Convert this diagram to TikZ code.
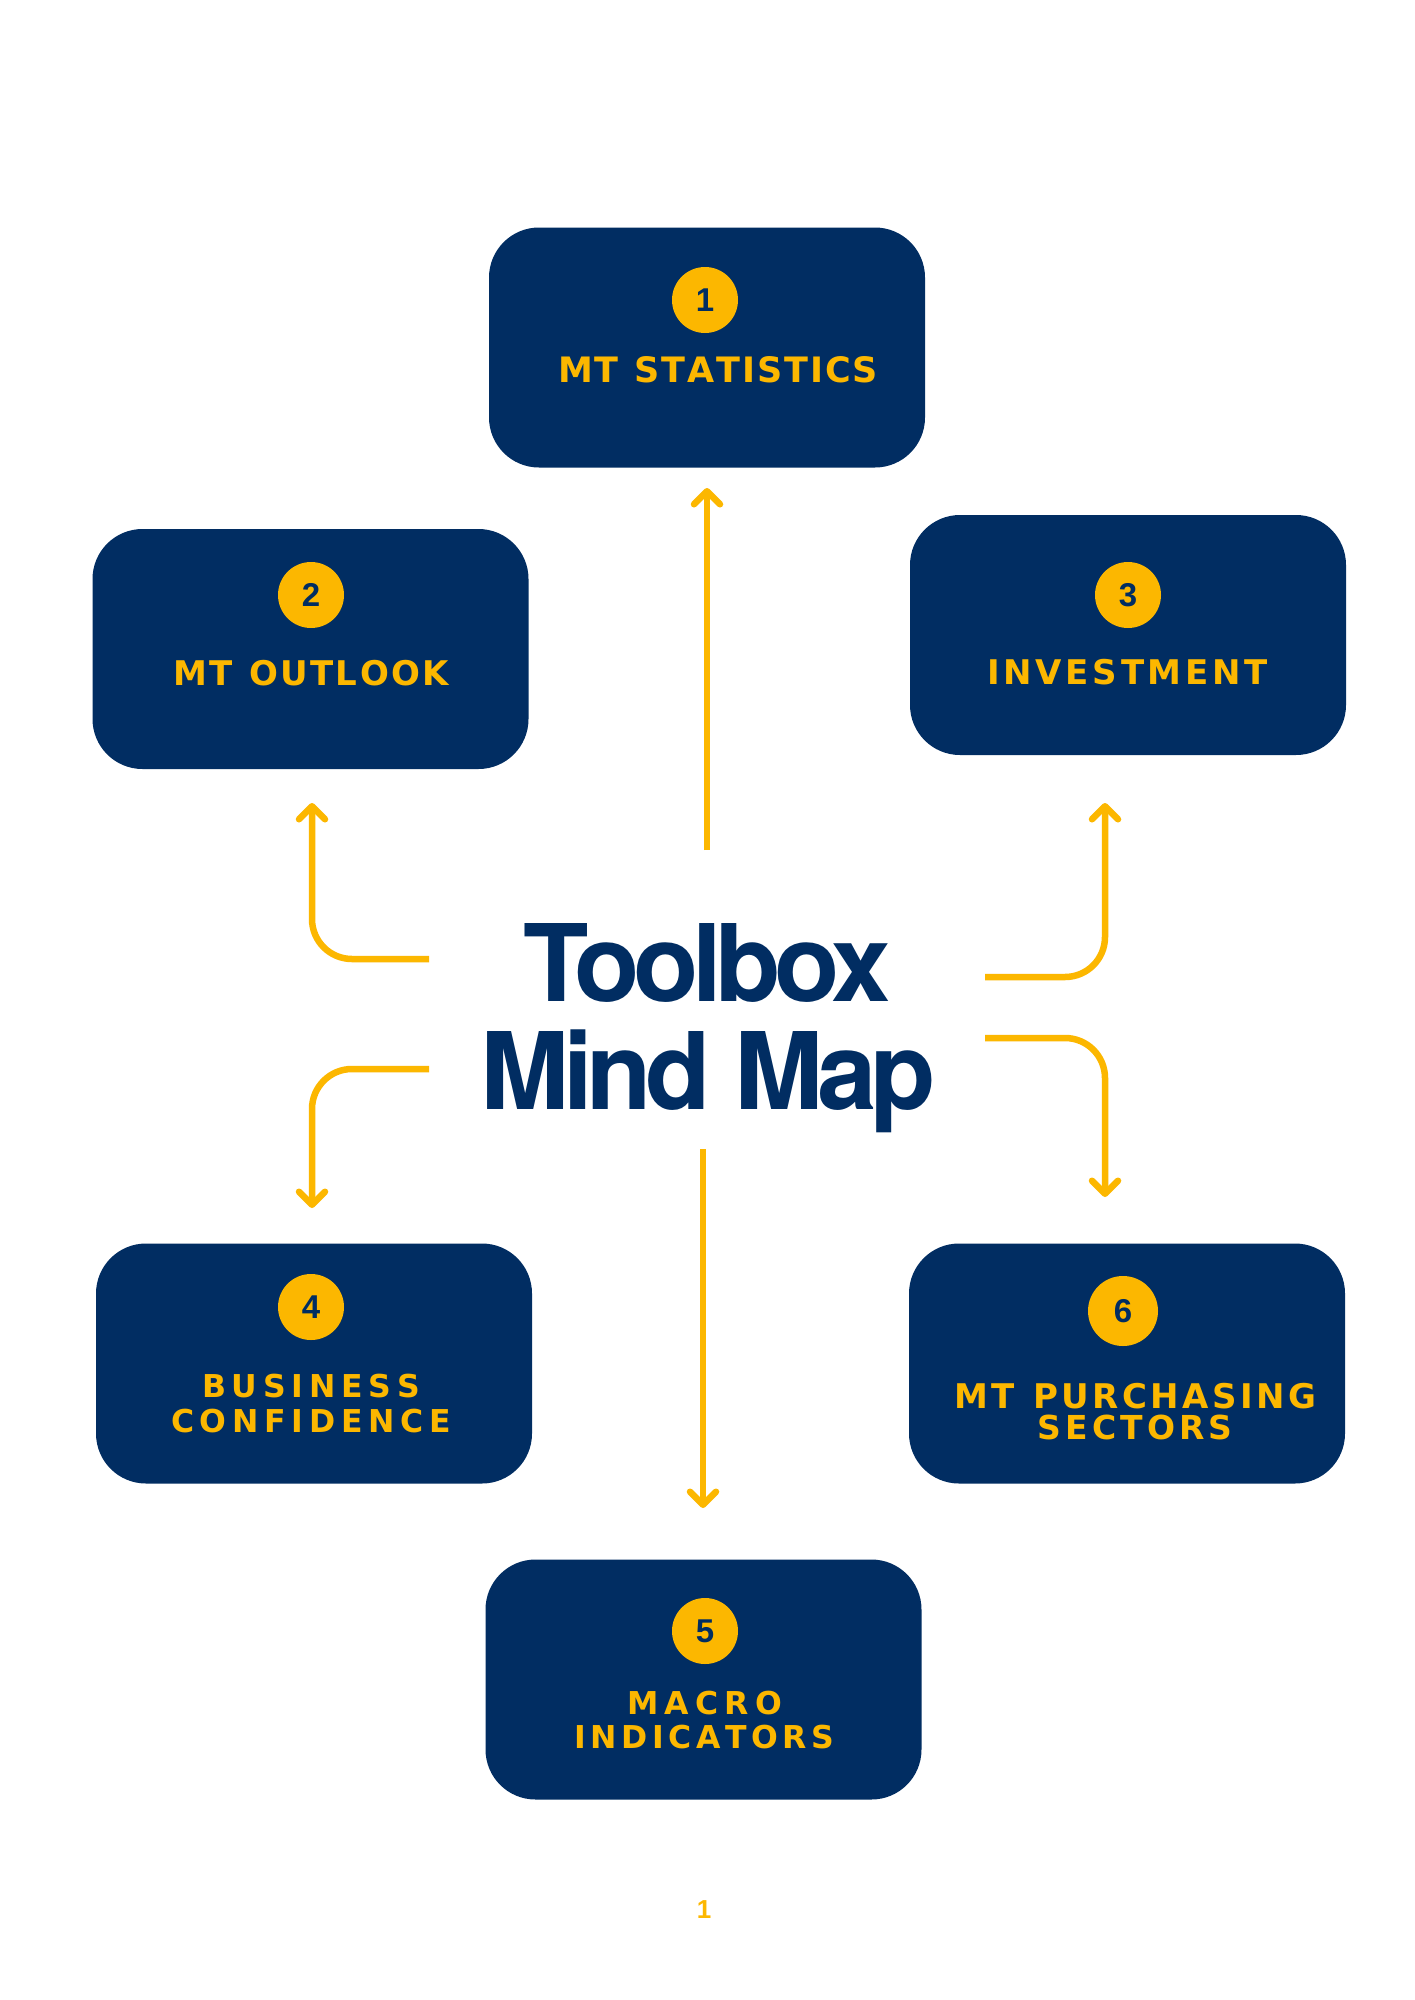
\documentclass[tikz,border=0pt]{standalone}
\usepackage{fontspec}
\setmainfont{Liberation Sans}
\newfontfamily\titlefont{TeX Gyre Heros}
\newfontfamily\labelfont{DejaVu Sans}
\usetikzlibrary{arrows.meta}
\definecolor{navy}{RGB}{1,45,98}
\definecolor{gold}{RGB}{252,183,0}
\ExplSyntaxOn
\NewDocumentCommand{\spread}{m m m}{{\labelfont\bfseries\fontsize{#1}{#1}\selectfont\makebox[#2][s]{\bool_set_false:N \l_tmpa_bool\tl_map_inline:nn {#3}{\bool_if:NT \l_tmpa_bool {\hfil}\bool_set_true:N \l_tmpa_bool ##1}}}}
\ExplSyntaxOff
\begin{document}
\begin{tikzpicture}[x=1pt,y=-1pt,
  box/.style={fill=navy, rounded corners=50pt, minimum width=436pt, minimum height=240pt, inner sep=0pt},
  badge/.style={circle, fill=gold, minimum size=66pt, inner sep=0pt, text=navy, font=\fontsize{33}{33}\selectfont\bfseries},
  lab/.style={text=gold, anchor=base, inner sep=0pt},
  ttl/.style={text=navy, anchor=base, inner sep=0pt, font=\titlefont\bfseries\fontsize{107}{108}\selectfont\addfontfeature{LetterSpace=-6}},
  conn/.style={draw=gold, line width=6.5pt, rounded corners=40pt, -{Straight Barb[length=13pt,width=26pt,round]}}]
\fill[white] (0,0) rectangle (1414,2000);
\useasboundingbox (0,0) rectangle (1414,2000);

% boxes
\node[box] (b1) at (707,347.5) {};
\node[box] (b2) at (310.5,649) {};
\node[box] (b3) at (1128,635) {};
\node[box] (b4) at (314,1363.5) {};
\node[box] (b5) at (703.5,1679.5) {};
\node[box] (b6) at (1127,1363.5) {};

% badges
\node[badge] (n1) at (705,300) {1};
\node[badge] (n2) at (311,595) {2};
\node[badge] (n3) at (1128,595) {3};
\node[badge] (n4) at (311,1307) {4};
\node[badge] (n5) at (705,1631) {5};
\node[badge, minimum size=70pt] (n6) at (1123,1311) {6};

% labels
\node[lab] (l1) at (718,382) {\spread{35}{320pt}{MT~STATISTICS}};
\node[lab] (l2) at (311,685) {\spread{34}{276pt}{MT~OUTLOOK}};
\node[lab] (l3) at (1127.5,684) {\spread{34}{281pt}{INVESTMENT}};
\node[lab] (l4a) at (311,1397) {\spread{31.5}{218pt}{BUSINESS}};
\node[lab] (l4b) at (311,1432) {\spread{31.5}{280pt}{CONFIDENCE}};
\node[lab] (l5a) at (704.5,1714) {\spread{31.5}{155pt}{MACRO}};
\node[lab] (l5b) at (704,1748) {\spread{31.5}{260pt}{INDICATORS}};
\node[lab] (l6a) at (1135,1408) {\spread{34}{362pt}{MT~PURCHASING}};
\node[lab] (l6b) at (1135,1439) {\spread{33}{195pt}{SECTORS}};

% title
\node[ttl] (title1) at (707,1001) {Toolbox};
\node[ttl] (title2) at (708,1109) {Mind Map};

% connector ends
\coordinate (t1) at (707,850);  \coordinate (e1) at (707,488);
\coordinate (t2) at (429,959);  \coordinate (e2) at (312,803);
\coordinate (t3) at (985,977);  \coordinate (e3) at (1105,803);
\coordinate (t4) at (429,1069); \coordinate (e4) at (312,1208);
\coordinate (t6) at (985,1038); \coordinate (e6) at (1105,1197);
\coordinate (t5) at (703,1149); \coordinate (e5) at (703,1508);

\draw[conn] (t1) -- (e1);
\draw[conn] (t2) -| (e2);
\draw[conn] (t3) -| (e3);
\draw[conn] (t4) -| (e4);
\draw[conn] (t6) -| (e6);
\draw[conn] (t5) -- (e5);

% page number
\node[text=gold, inner sep=0pt, font=\fontsize{26}{26}\selectfont\bfseries] (pg) at (704,1910) {1};
\end{tikzpicture}
\end{document}
